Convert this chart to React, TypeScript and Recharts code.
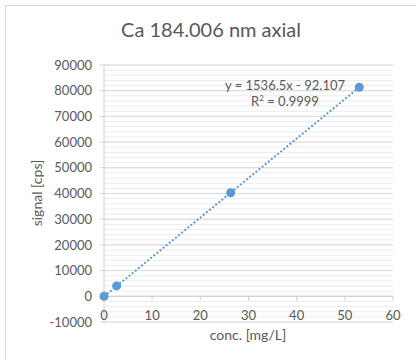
import React from "react";
import {
  ScatterChart,
  Scatter,
  XAxis,
  YAxis,
  CartesianGrid,
  ReferenceLine,
} from "recharts";

// calibration standards
const concentrations = [0, 2.63, 26.3, 53];
const signals = [0, 4050, 40300, 81350];

// trendline as reported by the spreadsheet
const trendSlope = 1536.5;
const trendIntercept = -92.107;
const rSquared = "0.9999";

const xTicks = [0, 10, 20, 30, 40, 50, 60];
const yTicks = [-10000, 0, 10000, 20000, 30000, 40000, 50000, 60000, 70000, 80000, 90000];
const minorStep = 2000;

const points = concentrations.map((x, i) => ({ x, y: signals[i] }));
const xMax = Math.max(...concentrations);
const trend = [0, xMax].map((x) => ({ x, y: trendSlope * x + trendIntercept }));
const minorValues = Array.from(
  { length: (yTicks[yTicks.length - 1] - yTicks[0]) / minorStep + 1 },
  (_, i) => yTicks[0] + i * minorStep
);

const FONT = "Lato, 'Open Sans', sans-serif";
const TEXT = "#595959";
const BLUE = "#5b9bd5";
const AXIS = "#d0d0d0";

function XTick({ x, y, payload }: any) {
  return (
    <text x={x} y={y - 2} textAnchor="middle" fill={TEXT} fontSize={13} fontFamily={FONT}>
      {payload.value}
    </text>
  );
}

export default function App() {
  const fmtIntercept =
    trendIntercept < 0 ? ` - ${Math.abs(trendIntercept)}` : ` + ${trendIntercept}`;
  return (
    <div
      style={{
        position: "absolute",
        left: 0,
        top: 0,
        width: 416,
        height: 360,
        background: "#fff",
        fontFamily: FONT,
        overflow: "hidden",
      }}
    >
      <div
        style={{
          position: "absolute",
          left: 5,
          top: 5,
          width: 420,
          height: 370,
          borderLeft: "1px solid #d9d9d9",
          borderTop: "1px solid #d9d9d9",
        }}
      />
      <ScatterChart
        width={416}
        height={360}
        margin={{ top: 65, right: 23, bottom: 8, left: 5 }}
      >
        <CartesianGrid
          vertical={false}
          horizontalValues={minorValues}
          stroke="#ececec"
          strokeWidth={1}
        />
        <CartesianGrid vertical={false} horizontalValues={yTicks} stroke="#d9d9d9" strokeWidth={1} />
        <XAxis
          type="number"
          dataKey="x"
          domain={[0, 60]}
          ticks={xTicks}
          axisLine={false}
          tickLine={false}
          tickSize={0}
          tickMargin={0}
          height={30}
          tick={<XTick />}
          interval={0}
        />
        <YAxis
          type="number"
          dataKey="y"
          domain={[-10000, 90000]}
          ticks={yTicks}
          width={99}
          interval={0}
          axisLine={{ stroke: AXIS }}
          tickLine={{ stroke: AXIS }}
          tickSize={4}
          tickMargin={8}
          tick={{ fill: TEXT, fontSize: 13, fontFamily: FONT }}
        />
        <ReferenceLine y={0} stroke={AXIS} strokeWidth={1} />
        {xTicks.slice(1).map((t) => (
          <ReferenceLine
            key={t}
            segment={[
              { x: t, y: 0 },
              { x: t, y: -1600 },
            ]}
            stroke={AXIS}
          />
        ))}
        <Scatter
          data={trend}
          line={{ stroke: BLUE, strokeWidth: 2, strokeDasharray: "2 2" }}
          lineType="joint"
          shape={() => <g />}
          isAnimationActive={false}
        />
        <Scatter data={points} fill={BLUE} isAnimationActive={false} />
      </ScatterChart>

      <div
        style={{
          position: "absolute",
          left: 0,
          width: 422,
          top: 17,
          textAlign: "center",
          fontSize: 20,
          color: TEXT,
          whiteSpace: "nowrap",
        }}
      >
        Ca 184.006 nm axial
      </div>
      <div
        style={{
          position: "absolute",
          left: 185,
          width: 200,
          top: 77,
          textAlign: "center",
          fontSize: 13,
          lineHeight: "16px",
          color: TEXT,
          whiteSpace: "nowrap",
        }}
      >
        <div>{`y = ${trendSlope}x${fmtIntercept}`}</div>
        <div>
          R<sup style={{ fontSize: 8, verticalAlign: "5px", lineHeight: 0 }}>2</sup> = {rSquared}
        </div>
      </div>
      <div
        style={{
          position: "absolute",
          left: 148,
          width: 200,
          top: 326,
          textAlign: "center",
          fontSize: 14,
          color: TEXT,
          whiteSpace: "nowrap",
        }}
      >
        conc. [mg/L]
      </div>
      <div
        style={{
          position: "absolute",
          left: 37 - 100,
          width: 200,
          top: 193 - 9,
          height: 18,
          lineHeight: "18px",
          textAlign: "center",
          fontSize: 14,
          color: TEXT,
          whiteSpace: "nowrap",
          transform: "rotate(-90deg)",
        }}
      >
        signal [cps]
      </div>
    </div>
  );
}
